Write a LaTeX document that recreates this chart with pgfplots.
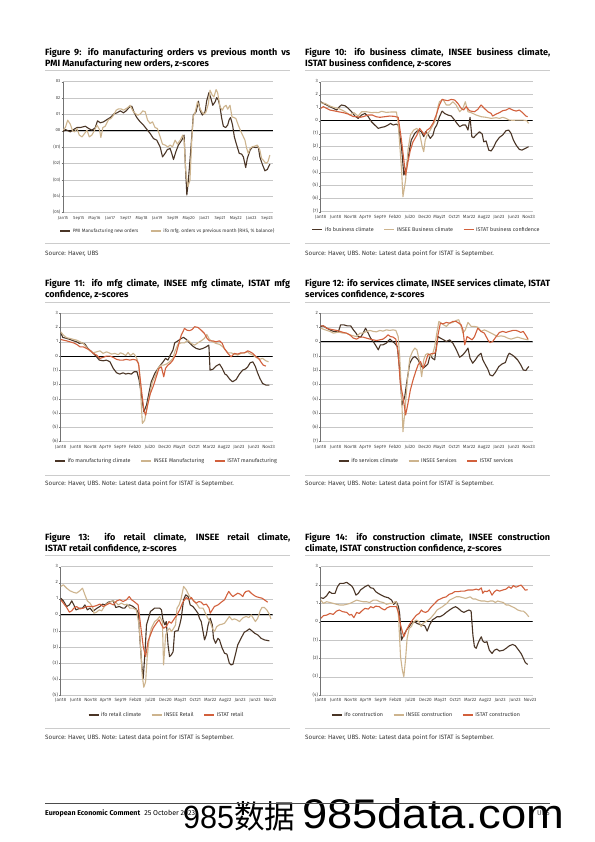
\documentclass[border=0pt]{standalone}
\usepackage{fontspec}
\setmainfont{Fira Sans}
\newfontfamily\cjk{Noto Sans CJK SC}
\newfontfamily\wmfont{Liberation Sans}
\usepackage{graphicx}
\usepackage{pgfplots}
\pgfplotsset{compat=1.18}
\definecolor{ifo}{HTML}{4A3526}
\definecolor{insee}{HTML}{CDB48E}
\definecolor{istat}{HTML}{D2603C}
\newcommand\tfont{\fontsize{9.1}{11}\selectfont\bfseries}
\newcommand\sfont{\fontsize{6.3}{7}\selectfont}
\pgfplotsset{
  ubs/.style={
    scale only axis, anchor=north west, width=212bp, height=128.4bp,
    xmin=0, xmax=71.4,
    axis lines=left, axis line style={-},
    x axis line style={draw=none},
    y axis line style={draw=black!55, line width=0.6bp},
    ymajorgrids, grid style={draw=black!22, line width=0.5bp},
    xtick style={draw=none},
    ytick style={draw=black!55, line width=0.4bp},
    tick align=outside, major tick length=1.5bp,
    typeset ticklabels with strut,
    tick label style={font=\fontsize{4.6}{5.5}\selectfont, text=black!75},
    yticklabel style={inner sep=1bp},
    xticklabel style={inner sep=1bp},
    xtick={0,5,...,70},
    xticklabels={Jan18,Jun18,Nov18,Apr19,Sep19,Feb20,Jul20,Dec20,May21,Oct21,Mar22,Aug22,Jan23,Jun23,Nov23},
    legend style={at={(0.5,-0.15)}, anchor=center, draw=none, fill=none,
      font=\fontsize{5.4}{6}\selectfont, text=black!80, legend columns=3,
      /tikz/every even column/.append style={column sep=8bp}},
    legend image code/.code={\draw[#1] (0bp,0bp) -- (10bp,0bp);},
    every axis plot/.append style={line width=1.1bp, line join=round},
  }
}
\begin{document}
\begin{tikzpicture}
\fill[white] (0,0) rectangle (595bp,-842bp);
\path[use as bounding box] (0,0) rectangle (595bp,-842bp);

% ---------- titles ----------
\node[anchor=base west, text width=245bp, align=justify, inner sep=0, font=\tfont] at (45bp,-55.5bp)
 {Figure 9: ifo manufacturing orders vs previous month vs\linebreak PMI Manufacturing new orders, z-scores};
\node[anchor=base west, text width=245bp, align=justify, inner sep=0, font=\tfont] at (305bp,-55.5bp)
 {Figure 10: ifo business climate, INSEE business climate,\linebreak ISTAT business confidence, z-scores};
\node[anchor=base west, text width=245bp, align=justify, inner sep=0, font=\tfont] at (45bp,-286.5bp)
 {Figure 11: ifo mfg climate, INSEE mfg climate, ISTAT mfg\linebreak confidence, z-scores};
\node[anchor=base west, text width=245bp, align=justify, inner sep=0, font=\tfont] at (305bp,-286.5bp)
 {Figure 12: ifo services climate, INSEE services climate, ISTAT\linebreak services confidence, z-scores};
\node[anchor=base west, text width=245bp, align=justify, inner sep=0, font=\tfont] at (45bp,-540.5bp)
 {Figure 13: ifo retail climate, INSEE retail climate,\linebreak ISTAT retail confidence, z-scores};
\node[anchor=base west, text width=245bp, align=justify, inner sep=0, font=\tfont] at (305bp,-540.5bp)
 {Figure 14: ifo construction climate, INSEE construction\linebreak climate, ISTAT construction confidence, z-scores};

% separators
\foreach \y in {70.7,243.3,302.7,475,555.7,728.3}{
  \draw[black!20, line width=0.5bp] (45bp,-\y bp) -- (290bp,-\y bp);
  \draw[black!20, line width=0.5bp] (305bp,-\y bp) -- (550bp,-\y bp);
}
% sources
\node[anchor=base west, inner sep=0, font=\sfont, text=black!80] at (45bp,-255.5bp) {Source: Haver, UBS};
\node[anchor=base west, inner sep=0, font=\sfont, text=black!80] at (305bp,-255.5bp) {Source: Haver, UBS. Note: Latest data point for ISTAT is September.};
\node[anchor=base west, inner sep=0, font=\sfont, text=black!80] at (45bp,-485bp) {Source: Haver, UBS. Note: Latest data point for ISTAT is September.};
\node[anchor=base west, inner sep=0, font=\sfont, text=black!80] at (305bp,-485bp) {Source: Haver, UBS. Note: Latest data point for ISTAT is September.};
\node[anchor=base west, inner sep=0, font=\sfont, text=black!80] at (45bp,-739.5bp) {Source: Haver, UBS. Note: Latest data point for ISTAT is September.};
\node[anchor=base west, inner sep=0, font=\sfont, text=black!80] at (305bp,-739.5bp) {Source: Haver, UBS. Note: Latest data point for ISTAT is September.};

% ---------- Figure 9 ----------
\begin{axis}[ubs, at={(63bp,-81.7bp)}, width=210bp, height=131bp,
  xmin=0, xmax=107, ymin=-5, ymax=3,
  ytick={-5,...,3}, yticklabels={(05),(04),(03),(02),(01),00,01,02,03},
  xtick={0,8,...,104},
  xticklabels={Jan15,Sep15,May16,Jan17,Sep17,May18,Jan19,Sep19,May20,Jan21,Sep21,May22,Jan23,Sep23},
  tick label style={font=\fontsize{4.3}{5.5}\selectfont},
  legend style={at={(0.5,-0.14)}, font=\fontsize{4.8}{6}\selectfont, legend columns=2, /tikz/every even column/.append style={column sep=10bp}}]
\draw[black, line width=0.8bp] (axis cs:0,0) -- (axis cs:107,0);
\addplot[ifo] coordinates {(0,-0.06)(1.2,0.08)(3.7,-0.06)(5.4,0.08)(7.1,0.20)(8.8,0.20)(11.4,0.28)(13.1,0.14)(14.7,0.04)(16.4,0.18)(17.6,0.61)(19.0,0.49)(20.7,0.55)(22.4,0.69)(24.1,0.81)(25.8,1.02)(27.5,1.10)(29.2,1.22)(30.8,1.10)(32.2,1.22)(33.9,1.46)(35.1,1.50)(36.3,1.10)(37.6,0.81)(39.3,0.55)(41.0,0.35)(42.4,0.14)(44.4,-0.16)(46.1,-0.47)(47.8,-0.57)(49.5,-0.98)(50.7,-1.59)(52.0,-1.38)(53.2,-1.14)(54.6,-1.08)(55.4,-1.38)(56.3,-1.75)(57.5,-1.28)(58.8,-0.87)(60.5,-0.57)(61.7,-0.26)(62.4,-2.20)(63.1,-3.92)(63.9,-3.01)(65.1,-1.18)(66.4,0.96)(67.8,1.16)(69.0,1.81)(69.8,1.26)(71.0,0.96)(72.4,1.16)(73.2,1.83)(74.4,2.34)(75.4,1.97)(76.3,1.56)(77.5,1.77)(78.3,2.03)(79.2,1.87)(80.0,1.46)(80.8,0.81)(81.7,0.28)(82.9,0.20)(83.9,0.35)(84.7,0.69)(85.4,0.81)(86.4,0.35)(87.3,-0.37)(88.5,-0.87)(89.8,-1.38)(91.0,-1.42)(91.9,-1.59)(93.1,-2.24)(93.9,-1.69)(95.3,-1.18)(96.6,-0.98)(98.3,-1.02)(99.5,-0.98)(100.3,-1.59)(101.7,-2.09)(102.9,-2.44)(104.1,-2.36)(105.4,-2.03)};
\addlegendentry{PMI Manufacturing new orders}
\addplot[insee] coordinates {(0,0.04)(1.2,0.20)(2.4,0.65)(3.7,0.41)(4.9,0.00)(5.9,-0.06)(7.1,0.14)(8.3,-0.26)(9.7,-0.37)(11.0,-0.16)(12.2,0.04)(13.4,-0.37)(14.7,-0.26)(16.1,0.04)(17.3,0.35)(18.6,0.08)(19.3,-0.41)(20.3,0.20)(21.5,0.28)(23.2,0.69)(24.4,0.75)(25.8,0.96)(27.1,1.26)(28.3,1.34)(29.7,1.34)(30.8,1.26)(32.2,1.36)(33.4,1.46)(34.2,1.56)(35.6,1.22)(36.8,1.06)(38.1,0.96)(39.3,1.02)(40.7,1.22)(41.9,1.16)(43.1,0.65)(44.4,0.45)(45.6,0.55)(46.9,0.20)(48.1,0.14)(49.5,-0.37)(50.7,-0.81)(52.0,-0.87)(53.4,-0.98)(54.6,-0.87)(55.8,-0.98)(57.1,-0.57)(58.3,-0.81)(59.7,-0.57)(61.0,-0.26)(61.7,-0.57)(62.5,-2.40)(63.6,-3.41)(64.7,-3.01)(65.6,-0.57)(66.4,0.89)(67.3,1.10)(68.5,1.77)(69.8,1.36)(70.7,1.16)(71.9,1.02)(72.9,1.16)(74.1,1.67)(74.9,2.48)(76.1,2.17)(76.9,2.07)(78.0,2.52)(78.8,2.32)(80.0,1.46)(81.2,1.26)(82.0,1.46)(83.1,1.56)(83.9,1.32)(85.1,1.56)(86.1,0.85)(87.1,0.81)(88.1,0.75)(89.3,0.35)(90.5,0.00)(91.5,-0.26)(92.7,-0.57)(93.6,-1.08)(94.4,-1.38)(95.3,-1.08)(96.4,-0.98)(97.8,-0.93)(99.0,-0.87)(100.3,-1.18)(101.2,-1.69)(102.0,-1.79)(103.4,-1.99)(104.4,-1.89)(105.4,-1.48)};
\addlegendentry{ifo mfg. orders vs previous month (RHS, \% balance)}
\end{axis}

% ---------- Figure 10 ----------
\begin{axis}[ubs, at={(320.7bp,-81.7bp)}, height=130bp, ymin=-7, ymax=3,
  ytick={-7,...,3}, yticklabels={(7),(6),(5),(4),(3),(2),(1),0,1,2,3},
  legend style={at={(0.5,-0.14)}}]
\draw[black, line width=0.8bp] (axis cs:0,0) -- (axis cs:71.4,0);
\addplot[ifo] coordinates {(0,1.46)(0.9,1.33)(2.0,1.21)(3.1,1.08)(4.3,0.95)(5.4,0.82)(6.3,1.08)(7.0,1.21)(8.2,1.15)(9.3,0.95)(10.4,0.69)(11.5,0.36)(12.6,0.18)(13.8,0.44)(14.9,0.56)(16.0,0.31)(17.1,-0.08)(18.2,-0.33)(19.4,-0.59)(20.5,-0.51)(21.6,-0.46)(22.7,-0.33)(23.5,-0.21)(24.4,-0.33)(25.5,-0.26)(26.1,-0.33)(27.2,-2.00)(28.0,-4.18)(28.9,-3.54)(29.8,-2.38)(30.5,-1.49)(31.7,-0.97)(32.8,-0.72)(33.9,-0.85)(34.7,-1.23)(35.3,-0.85)(36.1,-1.03)(36.9,-1.36)(37.8,-1.10)(38.4,-0.59)(39.1,-0.33)(40.0,0.31)(40.9,0.74)(41.7,0.56)(42.8,0.44)(44.0,0.36)(45.1,0.05)(45.9,-0.21)(46.8,-0.46)(47.9,-0.33)(48.8,-0.33)(49.6,-0.72)(50.3,0.26)(50.9,-1.23)(51.5,-1.31)(52.3,-1.10)(53.5,-0.85)(54.4,-1.03)(54.9,-1.62)(55.7,-1.56)(56.6,-2.26)(57.4,-2.33)(58.2,-2.05)(59.1,-1.62)(60.2,-1.28)(61.3,-1.10)(62.4,-0.77)(63.3,-0.72)(64.1,-0.97)(64.9,-1.49)(65.8,-1.87)(66.9,-2.21)(67.8,-2.26)(68.9,-2.13)(70.0,-2.00)};
\addlegendentry{ifo business climate}
\addplot[insee] coordinates {(0,1.38)(1.5,1.33)(3.1,1.13)(4.3,1.03)(5.9,0.95)(7.6,0.77)(8.7,0.62)(9.8,0.44)(11.2,0.62)(12.6,0.36)(13.8,0.69)(15.4,0.69)(17.1,0.62)(18.2,0.64)(19.4,0.62)(20.5,0.72)(22.1,0.64)(23.8,0.67)(25.5,0.67)(26.1,-0.21)(27.2,-3.67)(27.7,-5.85)(28.6,-4.56)(29.4,-2.26)(30.2,-1.10)(31.3,-0.72)(32.4,-0.59)(33.3,-0.97)(34.2,-2.00)(34.7,-2.38)(35.2,-1.49)(36.1,-0.97)(36.9,-0.72)(37.8,-0.33)(38.7,0.05)(39.5,1.08)(40.0,1.46)(41.2,1.64)(42.3,1.21)(43.4,1.21)(44.5,1.46)(45.6,1.21)(46.8,0.69)(47.9,0.95)(48.7,1.46)(49.6,0.69)(50.7,0.62)(52.3,0.44)(54.0,0.31)(55.7,0.26)(57.4,0.18)(59.1,0.23)(60.2,0.18)(61.3,0.26)(62.4,0.18)(63.5,0.05)(64.7,0.03)(66.3,0.05)(68.0,0.05)(69.4,0.00)(70.0,-0.21)};
\addlegendentry{INSEE Business climate}
\addplot[istat] coordinates {(0,0.95)(0.9,1.08)(2.0,0.95)(3.1,0.82)(4.3,0.77)(5.9,0.69)(7.6,0.62)(9.3,0.51)(11.0,0.31)(12.1,0.31)(13.2,0.26)(14.3,0.31)(16.0,0.44)(17.4,0.44)(18.6,0.31)(19.9,0.26)(21.6,0.31)(23.3,0.36)(24.9,0.33)(26.1,0.26)(27.2,-1.49)(28.0,-3.03)(28.6,-4.18)(29.4,-3.15)(30.2,-2.26)(31.1,-1.62)(32.4,-1.10)(33.3,-0.59)(34.2,-0.85)(35.0,-1.10)(35.8,-0.72)(36.7,-0.59)(37.8,-0.21)(38.9,0.44)(40.0,1.21)(40.9,1.64)(41.7,1.59)(42.8,1.54)(44.0,1.64)(45.1,1.59)(46.2,1.33)(47.3,0.95)(48.1,0.82)(49.0,1.08)(50.1,0.77)(51.0,0.72)(51.8,0.69)(52.9,0.87)(54.0,1.21)(55.1,0.95)(56.3,0.69)(57.4,0.56)(57.9,0.36)(59.1,0.51)(60.2,0.62)(61.3,0.77)(62.4,0.82)(63.5,0.95)(64.7,0.82)(65.8,0.74)(66.9,0.82)(68.0,0.62)(69.1,0.36)(69.7,0.31)};
\addlegendentry{ISTAT business confidence}
\end{axis}

% ---------- Figure 11 ----------
\begin{axis}[ubs, at={(60.7bp,-313.3bp)}, ymin=-6, ymax=3,
  ytick={-6,...,3}, yticklabels={(6),(5),(4),(3),(2),(1),0,1,2,3}]
\draw[black, line width=0.8bp] (axis cs:0,0) -- (axis cs:71.4,0);
\addplot[ifo] coordinates {(0,1.64)(0.7,1.31)(2.0,1.24)(3.1,1.17)(4.3,1.07)(5.4,1.00)(6.3,0.89)(7.0,0.93)(8.2,0.84)(8.9,0.61)(9.8,0.42)(11.0,0.19)(12.1,-0.05)(13.0,-0.28)(14.3,-0.33)(15.4,-0.28)(16.6,-0.40)(17.7,-0.86)(18.8,-1.17)(19.9,-1.26)(21.0,-1.17)(21.9,-1.26)(22.7,-1.21)(23.8,-1.26)(24.7,-1.10)(25.7,-1.10)(26.4,-1.68)(27.2,-2.73)(28.0,-3.90)(28.9,-3.43)(29.8,-2.50)(30.5,-1.80)(31.7,-1.21)(32.8,-0.86)(33.6,-0.63)(34.5,-0.40)(35.3,-0.16)(36.1,-0.28)(36.9,0.07)(37.8,0.42)(38.4,0.93)(39.5,1.07)(40.6,1.24)(41.4,1.31)(42.3,1.17)(43.4,0.93)(44.5,0.70)(45.6,0.54)(46.8,0.47)(47.9,0.54)(49.0,0.65)(49.9,0.77)(50.3,-0.98)(51.2,-0.93)(52.3,-0.70)(53.5,-0.56)(54.4,-0.86)(55.3,-1.26)(55.9,-1.33)(57.0,-1.64)(57.9,-1.80)(59.1,-1.64)(60.2,-1.26)(61.3,-0.98)(62.2,-0.91)(63.0,-0.75)(63.8,-0.47)(64.7,-0.40)(65.5,-0.70)(66.3,-1.17)(67.1,-1.57)(68.0,-1.92)(69.1,-2.03)(70.3,-2.03)};
\addlegendentry{ifo manufacturing climate}
\addplot[insee] coordinates {(0,1.71)(0.9,1.47)(2.0,1.29)(3.1,1.24)(4.3,1.17)(5.4,1.12)(6.5,1.00)(7.6,0.89)(8.7,0.61)(9.8,0.37)(11.0,0.23)(12.1,0.30)(13.2,0.37)(14.3,0.19)(15.4,0.30)(16.3,0.23)(17.1,0.14)(18.2,0.19)(19.4,0.10)(20.1,0.23)(21.0,0.16)(21.9,0.04)(22.7,0.25)(23.5,0.03)(24.4,0.20)(24.9,0.10)(25.7,-0.20)(26.4,-0.75)(27.0,-2.85)(27.5,-4.72)(28.3,-4.49)(29.1,-3.55)(30.0,-2.62)(30.9,-1.80)(32.0,-1.33)(32.8,-0.86)(33.6,-0.63)(34.7,-0.63)(35.6,-0.56)(36.7,-0.40)(37.8,-0.16)(38.4,0.30)(39.5,0.84)(40.6,0.93)(41.7,0.93)(42.8,1.12)(44.0,0.89)(45.1,0.77)(46.2,0.93)(47.3,1.07)(48.4,1.24)(49.2,1.52)(50.1,1.17)(51.2,1.00)(52.3,0.89)(53.5,0.82)(54.6,0.65)(55.5,0.42)(56.3,0.23)(57.4,0.23)(58.5,0.14)(59.6,0.07)(60.7,0.19)(61.9,0.23)(63.0,0.30)(63.5,0.19)(64.7,0.07)(65.8,-0.09)(66.9,-0.23)(68.0,-0.16)(69.1,-0.33)(70.0,-0.40)};
\addlegendentry{INSEE Manufacturing}
\addplot[istat] coordinates {(0,1.17)(0.9,1.12)(2.0,1.07)(3.1,1.00)(4.3,0.93)(5.4,0.82)(6.5,0.65)(7.6,0.65)(8.7,0.54)(9.8,0.42)(11.0,0.19)(12.1,0.07)(13.2,-0.16)(14.3,-0.09)(15.4,0.00)(16.6,0.00)(17.7,-0.09)(18.8,-0.23)(19.9,-0.28)(21.0,-0.28)(22.1,-0.23)(23.3,-0.28)(24.4,-0.23)(25.5,-0.28)(26.2,-0.51)(27.2,-2.38)(28.0,-3.79)(28.6,-4.14)(29.4,-3.32)(30.2,-2.62)(31.1,-2.15)(32.2,-1.45)(33.1,-0.86)(33.9,-0.75)(34.7,-1.45)(35.3,-0.86)(36.1,-0.63)(36.9,-0.51)(37.8,-0.28)(38.9,0.19)(39.8,0.89)(40.6,1.47)(41.7,1.94)(42.5,1.82)(43.4,1.78)(44.3,1.87)(45.1,2.06)(46.2,2.01)(47.3,1.82)(48.4,1.59)(49.3,1.24)(50.1,1.07)(51.2,1.07)(52.3,1.00)(53.5,1.07)(54.4,0.89)(55.1,0.54)(56.3,0.19)(57.4,-0.05)(58.5,0.19)(59.6,0.14)(60.7,0.23)(61.9,0.23)(63.0,0.37)(63.8,0.30)(64.7,0.19)(65.8,-0.05)(66.7,-0.16)(67.4,-0.40)(68.2,-0.63)(69.1,-0.70)};
\addlegendentry{ISTAT manufacturing}
\end{axis}

% ---------- Figure 12 ----------
\begin{axis}[ubs, at={(320.7bp,-313.3bp)}, ymin=-7, ymax=2,
  ytick={-7,...,2}, yticklabels={(7),(6),(5),(4),(3),(2),(1),0,1,2}]
\draw[black, line width=0.8bp] (axis cs:0,0) -- (axis cs:71.4,0);
\addplot[ifo] coordinates {(0,1.08)(0.9,1.12)(2.0,0.96)(3.1,0.84)(4.3,0.73)(5.1,0.73)(5.9,0.66)(6.7,1.19)(7.8,1.19)(8.9,1.12)(10.1,1.12)(11.0,0.84)(11.9,0.61)(12.6,0.37)(13.5,0.33)(14.3,0.61)(15.1,0.96)(16.0,0.61)(16.8,0.26)(17.7,0.02)(18.6,-0.28)(19.4,-0.56)(20.1,-0.21)(21.0,-0.21)(22.1,-0.09)(23.3,0.19)(24.2,0.02)(24.9,-0.09)(25.8,-0.33)(26.6,-1.97)(27.4,-4.43)(28.3,-3.84)(29.1,-2.67)(30.0,-1.50)(30.9,-1.15)(31.7,-1.03)(32.8,-1.26)(33.6,-1.62)(34.5,-1.85)(35.2,-1.73)(36.1,-1.55)(36.9,-0.91)(37.6,-1.15)(38.4,-1.26)(38.9,-0.44)(39.5,0.37)(40.3,0.26)(41.4,0.14)(42.3,0.02)(43.4,0.14)(44.5,-0.09)(45.6,-0.52)(46.8,-1.08)(47.9,-0.91)(48.8,-0.68)(49.6,-0.44)(50.3,-1.15)(51.2,-1.50)(52.1,-1.26)(53.0,-0.98)(54.0,-0.80)(54.6,-1.26)(55.5,-1.62)(56.3,-1.92)(57.0,-2.32)(57.9,-2.39)(58.8,-2.15)(60.0,-1.73)(61.1,-1.55)(62.2,-1.45)(63.0,-0.98)(63.5,-0.80)(64.4,-0.91)(65.2,-1.03)(66.3,-1.26)(67.4,-1.62)(68.2,-1.97)(69.1,-2.01)(69.6,-1.85)(70.1,-1.73)};
\addlegendentry{ifo services climate}
\addplot[insee] coordinates {(0,0.96)(1.5,0.84)(3.1,0.73)(4.3,0.61)(5.4,0.66)(6.5,0.66)(7.6,0.61)(8.7,0.61)(9.8,0.49)(11.0,0.42)(12.1,0.37)(13.2,0.61)(14.3,0.61)(15.4,0.73)(16.6,0.80)(17.7,0.73)(18.8,0.70)(19.9,0.80)(21.0,0.75)(22.1,0.84)(23.3,0.80)(24.4,0.84)(25.3,0.80)(26.1,0.37)(26.6,-1.03)(27.3,-4.07)(27.7,-6.30)(28.4,-4.78)(29.1,-2.90)(30.0,-1.15)(30.9,-0.68)(31.7,-0.44)(32.4,-0.56)(33.3,-1.38)(34.0,-2.44)(34.7,-1.26)(35.3,-0.91)(36.1,-0.80)(36.9,-1.03)(37.6,-0.91)(38.4,-0.33)(39.1,0.61)(39.8,1.43)(40.6,1.31)(41.4,1.19)(42.3,1.08)(43.4,1.31)(44.5,1.36)(45.6,1.50)(46.5,1.55)(47.3,1.08)(47.9,0.61)(48.7,0.84)(49.6,1.36)(50.7,1.08)(51.8,1.08)(52.9,1.03)(54.0,0.73)(55.1,0.84)(56.3,0.73)(57.4,0.61)(58.5,0.49)(59.6,0.37)(60.7,0.42)(61.9,0.37)(63.0,0.26)(64.1,0.19)(65.2,0.26)(66.3,0.33)(67.4,0.26)(68.6,0.19)(70.0,0.14)};
\addlegendentry{INSEE Services}
\addplot[istat] coordinates {(0,1.12)(0.9,1.12)(2.0,0.96)(3.1,0.89)(4.3,0.84)(5.4,0.80)(6.5,0.73)(7.6,0.66)(8.7,0.61)(9.8,0.49)(11.0,0.26)(12.1,0.19)(13.2,0.33)(14.3,0.33)(15.4,0.26)(16.6,0.19)(17.7,0.14)(18.8,0.09)(19.9,0.14)(21.0,0.19)(21.9,0.33)(22.7,0.49)(23.5,0.37)(24.4,0.33)(25.3,0.19)(26.1,-0.80)(26.8,-2.90)(27.7,-3.84)(28.6,-5.13)(29.4,-4.31)(30.2,-3.37)(31.1,-2.67)(32.0,-2.08)(32.8,-1.62)(33.6,-1.38)(34.5,-1.85)(35.2,-1.50)(36.1,-0.91)(37.2,-0.84)(38.4,-0.80)(38.9,-0.56)(39.5,0.49)(40.3,1.31)(41.2,1.26)(42.3,1.36)(43.4,1.31)(44.5,1.43)(45.6,1.43)(46.5,1.31)(47.3,1.19)(47.9,0.84)(48.5,-0.21)(49.3,0.37)(50.1,0.26)(51.0,0.14)(51.8,0.37)(52.9,0.96)(54.0,0.73)(55.1,0.61)(56.3,0.14)(57.0,-0.05)(57.9,0.02)(59.1,0.37)(60.2,0.66)(61.3,0.73)(62.4,0.66)(63.5,0.73)(64.7,0.80)(65.8,0.80)(66.7,0.73)(67.4,0.66)(68.2,0.73)(69.1,0.45)(69.8,0.20)};
\addlegendentry{ISTAT services}
\end{axis}

% ---------- Figure 13 ----------
\begin{axis}[ubs, at={(60.7bp,-566.7bp)}, xmax=70.9, ymin=-5, ymax=3,
  ytick={-5,...,3}, yticklabels={(5),(4),(3),(2),(1),0,1,2,3},
  legend style={at={(0.5,-0.155)}}]
\draw[black, line width=0.8bp] (axis cs:0,0) -- (axis cs:70.9,0);
\addplot[ifo] coordinates {(0,1.04)(0.9,0.87)(2.0,0.52)(2.9,0.62)(3.7,0.87)(4.4,0.62)(5.1,0.31)(5.9,0.37)(6.4,0.42)(7.3,0.42)(8.1,0.62)(8.9,0.31)(9.8,0.42)(10.7,0.21)(11.4,0.31)(12.2,0.42)(13.1,0.52)(14.0,0.67)(14.8,0.62)(15.9,0.79)(16.7,0.83)(17.6,0.87)(18.4,0.46)(19.6,0.52)(20.7,0.42)(21.4,0.42)(22.2,0.58)(23.1,0.62)(24.2,0.52)(25.3,0.35)(26.0,0.10)(26.4,-1.25)(27.1,-3.12)(27.6,-3.95)(28.2,-2.29)(28.7,-0.62)(29.2,-0.31)(30.0,0.21)(30.7,0.31)(31.4,0.42)(32.2,0.42)(33.1,0.42)(33.7,0.31)(34.2,-0.31)(34.8,-0.62)(35.3,-0.42)(35.9,-1.87)(36.4,-2.60)(37.0,-2.49)(37.6,-2.29)(38.1,-1.04)(38.7,-1.00)(39.2,-1.00)(39.8,-0.62)(40.3,-0.21)(41.1,0.94)(41.8,1.25)(42.6,1.14)(43.3,0.62)(44.2,0.52)(45.1,0.31)(45.9,0.10)(46.4,-0.21)(47.0,-0.42)(47.6,-1.04)(48.1,-1.56)(48.7,-1.25)(49.3,-0.62)(50.0,-0.21)(50.7,-0.62)(51.1,-1.46)(51.8,-1.77)(52.6,-1.46)(53.1,-1.56)(54.0,-2.08)(54.8,-2.39)(55.6,-2.45)(56.4,-3.01)(57.0,-3.12)(57.6,-3.08)(58.4,-2.49)(59.2,-1.87)(60.3,-1.46)(61.4,-1.08)(62.2,-1.00)(63.1,-0.87)(64.0,-1.00)(64.8,-1.14)(65.9,-1.25)(67.0,-1.46)(68.1,-1.56)(69.8,-1.62)};
\addlegendentry{ifo retail climate}
\addplot[insee] coordinates {(0,1.77)(0.9,1.87)(2.0,1.66)(3.1,1.50)(4.2,1.41)(5.3,1.35)(6.4,1.50)(7.3,1.66)(8.1,1.25)(8.9,0.87)(9.8,0.73)(10.7,0.46)(11.1,0.10)(12.0,0.17)(12.9,0.31)(13.7,0.25)(14.4,0.46)(15.3,0.67)(16.4,0.79)(17.6,0.87)(18.4,0.79)(19.2,0.62)(20.3,0.73)(21.4,0.62)(22.2,0.67)(23.1,0.42)(24.2,0.42)(25.3,0.31)(26.2,-0.62)(26.8,-2.29)(27.3,-3.85)(27.8,-4.51)(28.4,-4.16)(28.9,-2.70)(29.6,-1.46)(30.3,-0.83)(31.4,-0.42)(32.2,-0.31)(33.1,-0.10)(34.0,-0.42)(34.4,-3.12)(35.1,-1.25)(35.9,-0.94)(36.4,-0.83)(37.0,-1.04)(37.8,-0.83)(38.4,-0.62)(38.9,0.42)(39.6,0.62)(40.3,1.04)(41.1,1.77)(42.0,1.56)(43.1,1.14)(44.2,0.94)(45.3,0.73)(46.4,0.42)(47.6,0.42)(48.4,0.10)(49.2,-0.21)(50.0,-0.42)(50.7,-0.83)(51.4,-1.04)(52.2,-0.73)(53.1,-0.62)(54.0,-0.58)(54.8,-0.52)(55.6,-0.31)(56.4,-0.10)(57.3,-0.31)(58.1,-0.25)(58.9,-0.31)(59.8,-0.42)(60.3,-0.31)(61.1,-0.17)(62.0,-0.10)(62.9,-0.17)(63.7,0.00)(64.4,-0.21)(65.1,-0.42)(65.9,-0.21)(66.7,0.25)(67.3,0.46)(68.1,0.46)(68.9,0.31)(69.8,0.04)(70.3,-0.25)};
\addlegendentry{INSEE Retail}
\addplot[istat] coordinates {(0,0.94)(0.9,0.73)(2.0,0.46)(2.9,0.17)(3.7,0.25)(4.4,0.42)(5.3,0.52)(6.4,0.37)(7.6,0.42)(8.7,0.52)(9.8,0.52)(10.9,0.52)(12.0,0.58)(13.1,0.67)(14.2,0.52)(15.3,0.62)(16.4,0.73)(17.6,0.62)(18.7,0.87)(19.8,0.94)(20.9,0.83)(22.0,0.94)(22.9,1.14)(23.7,0.94)(24.8,0.79)(25.9,0.62)(26.7,-0.62)(27.6,-1.98)(28.4,-2.60)(29.2,-1.66)(30.0,-1.25)(30.9,-0.83)(32.0,-0.52)(32.9,-0.31)(33.7,-0.62)(34.4,-0.83)(35.3,-0.73)(36.2,-0.42)(37.0,-0.52)(38.1,-0.21)(38.9,0.00)(39.8,0.31)(40.7,0.73)(41.4,0.94)(42.0,1.08)(42.9,0.94)(43.7,1.08)(44.4,0.87)(45.3,0.73)(46.2,0.83)(47.0,0.79)(47.8,0.62)(48.7,0.67)(49.6,0.42)(50.0,0.10)(50.7,0.31)(51.4,0.52)(52.6,0.62)(53.7,0.79)(54.8,0.94)(55.6,1.25)(56.2,1.46)(57.0,1.25)(57.6,1.14)(58.4,1.25)(59.2,1.35)(60.0,1.29)(60.9,1.14)(61.4,1.35)(62.0,1.46)(62.9,1.50)(63.7,1.35)(64.4,1.25)(65.3,1.14)(66.4,1.08)(67.3,1.04)(68.1,0.94)(69.2,0.79)};
\addlegendentry{ISTAT retail}
\end{axis}

% ---------- Figure 14 ----------
\begin{axis}[ubs, at={(320.7bp,-566.7bp)}, xmax=70.9, ymin=-4, ymax=3,
  ytick={-4,...,3}, yticklabels={(4),(3),(2),(1),0,1,2,3},
  legend style={at={(0.5,-0.155)}}]
\draw[black, line width=0.8bp] (axis cs:0,0) -- (axis cs:70.9,0);
\addplot[ifo] coordinates {(0,1.31)(0.9,1.27)(2.0,1.42)(2.9,1.64)(3.7,1.55)(4.8,1.55)(5.6,1.91)(6.4,2.09)(7.6,2.09)(8.7,2.15)(9.6,2.04)(10.3,1.96)(10.9,1.82)(11.8,1.45)(12.6,1.55)(13.3,1.73)(14.8,1.91)(15.9,2.00)(16.7,1.85)(17.6,1.82)(18.4,1.64)(19.2,1.55)(20.3,1.45)(21.4,1.36)(22.6,1.31)(23.7,1.18)(24.4,0.95)(25.3,1.09)(26.0,0.82)(26.4,0.45)(27.0,-1.00)(27.8,-0.73)(28.7,-0.45)(29.6,-0.27)(30.3,-0.09)(31.4,0.00)(32.2,-0.09)(33.1,-0.15)(34.0,-0.18)(34.8,-0.22)(35.6,-0.51)(36.4,-0.18)(37.3,0.09)(38.1,0.18)(38.9,0.27)(39.8,0.27)(40.9,0.36)(42.0,0.51)(43.1,0.64)(44.2,0.76)(45.1,0.82)(46.0,0.73)(47.0,0.58)(47.9,0.51)(48.7,0.58)(49.6,0.64)(50.3,0.58)(50.9,-0.73)(51.4,-1.36)(52.0,-1.45)(52.6,-1.18)(53.1,-1.00)(53.7,-0.82)(54.2,-1.05)(54.8,-1.13)(55.6,-1.09)(56.4,-1.55)(57.3,-1.73)(58.1,-1.55)(58.9,-1.49)(59.8,-1.60)(61.1,-1.55)(62.0,-1.45)(63.1,-1.31)(64.2,-1.24)(65.1,-1.31)(66.2,-1.55)(67.0,-1.73)(67.8,-2.00)(68.4,-2.22)(69.2,-2.33)};
\addlegendentry{ifo construction}
\addplot[insee] coordinates {(0,1.18)(0.9,1.00)(2.0,1.09)(3.1,1.05)(4.2,1.00)(5.3,0.95)(6.4,0.91)(7.6,0.91)(8.7,0.95)(9.8,1.00)(10.9,1.09)(12.0,1.18)(13.1,1.13)(14.2,1.09)(15.3,1.09)(16.4,1.05)(17.6,1.18)(18.7,1.18)(19.8,1.09)(20.9,1.05)(22.0,0.95)(23.1,1.00)(24.2,1.00)(24.8,1.09)(25.3,1.09)(26.0,0.36)(26.7,-1.91)(27.3,-2.64)(27.8,-3.00)(28.4,-2.00)(28.9,-0.91)(29.6,-0.36)(30.3,-0.27)(31.1,0.00)(32.0,0.09)(32.9,0.00)(33.6,-0.27)(34.2,-0.09)(35.1,0.00)(35.9,0.09)(36.7,0.18)(37.6,0.36)(38.1,0.45)(38.9,0.64)(39.8,0.73)(40.7,0.82)(41.4,0.91)(42.2,1.00)(43.1,1.18)(44.2,1.27)(45.3,1.36)(46.4,1.36)(47.6,1.31)(48.4,1.27)(49.2,1.31)(50.0,1.36)(50.9,1.24)(51.8,1.24)(52.6,1.18)(53.7,1.13)(54.8,1.13)(55.9,1.09)(56.7,1.13)(57.6,1.13)(58.4,1.05)(59.2,1.13)(60.0,1.09)(61.1,1.05)(62.0,0.91)(62.9,0.91)(64.0,0.82)(64.8,0.76)(65.9,0.64)(67.0,0.58)(67.8,0.58)(68.7,0.45)(69.6,0.27)};
\addlegendentry{INSEE construction}
\addplot[istat] coordinates {(0,0.18)(0.9,0.33)(2.0,0.36)(3.1,0.45)(4.2,0.40)(5.3,0.58)(6.2,0.64)(7.3,0.55)(8.7,0.51)(9.6,0.36)(10.3,0.40)(11.1,0.22)(12.0,0.51)(12.9,0.45)(13.7,0.58)(14.8,0.73)(15.9,0.69)(16.7,0.82)(17.6,0.76)(18.4,0.85)(19.6,0.82)(20.3,0.73)(21.4,0.64)(22.2,0.76)(23.1,0.82)(24.2,0.82)(25.3,0.82)(26.0,0.51)(26.7,-0.18)(27.8,-0.82)(28.7,-0.45)(29.6,-0.18)(30.3,0.00)(31.1,0.18)(32.0,0.36)(32.9,0.45)(33.7,0.64)(34.2,0.55)(35.1,0.51)(35.9,0.58)(36.7,0.76)(37.6,0.91)(38.4,1.05)(39.2,1.18)(40.0,1.24)(40.9,1.31)(42.0,1.36)(42.9,1.49)(44.0,1.55)(44.8,1.64)(45.9,1.64)(47.0,1.67)(48.1,1.67)(49.2,1.73)(50.0,1.73)(50.9,1.73)(52.0,1.78)(52.9,1.73)(53.7,1.85)(54.2,1.55)(54.8,1.67)(55.6,1.64)(56.4,1.73)(57.3,1.45)(58.1,1.64)(58.9,1.73)(59.8,1.67)(60.9,1.73)(62.0,1.78)(62.9,1.91)(63.7,1.82)(64.4,1.97)(65.3,1.88)(66.2,1.95)(67.0,2.00)(67.8,1.85)(68.4,1.72)(69.2,1.75)};
\addlegendentry{ISTAT construction}
\end{axis}

% ---------- footer ----------
\node[anchor=base west, inner sep=0, font=\fontsize{7.1}{8}\selectfont] at (45bp,-815.5bp)
 {\textbf{European Economic Comment}\hspace{4bp}25 October 2023};
\node[anchor=base east, inner sep=0, font=\fontsize{7.1}{8}\selectfont, text=black!70] at (550bp,-815.5bp) {UBS};
\node[anchor=base west, inner sep=0] at (183bp,-828bp) {\resizebox{112bp}{27bp}{\wmfont 985\cjk 数据}};
\node[anchor=base west, inner sep=0] at (302bp,-828bp) {\resizebox{262bp}{30bp}{\wmfont 985data.com}};
\draw[black!70, line width=0.5bp] (45bp,-803.3bp) -- (550bp,-803.3bp);
\end{tikzpicture}
\end{document}
